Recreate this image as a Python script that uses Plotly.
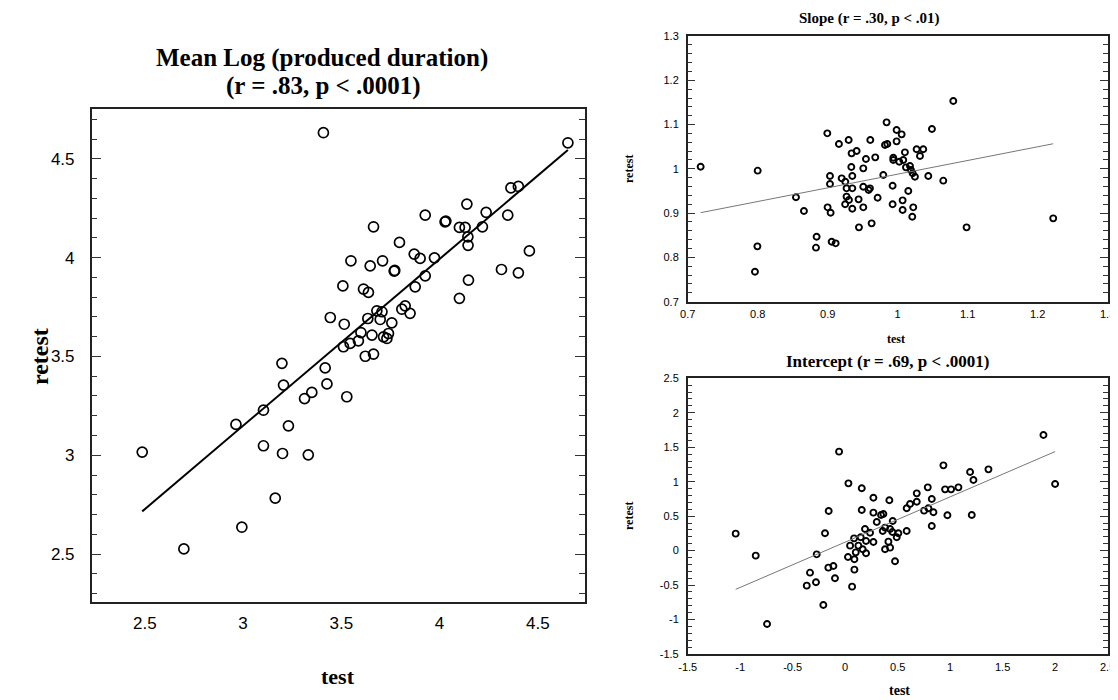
import plotly.graph_objects as go

W, H = 1118, 700
OFF = 8  # page body margin of the browser
FW, FH = W - OFF, H - OFF

# ---------------- data ----------------
main_test = [2.487, 2.699, 2.964, 2.994, 3.104, 3.104, 3.164, 3.198, 3.206, 3.201,
             3.231, 3.313, 3.350, 3.332, 3.418, 3.427, 3.409, 4.653, 4.363, 4.401,
             4.139, 3.927, 4.028, 4.032, 4.237, 4.347, 4.101, 4.130, 4.218, 4.144,
             4.145, 3.664, 3.796, 3.871, 3.901, 3.974, 4.457, 3.927, 3.549, 3.710,
             3.647, 3.769, 3.772, 4.315, 4.401, 3.876, 4.147, 4.101, 3.508, 3.613,
             3.638, 3.681, 3.707, 3.808, 3.825, 3.850, 3.757, 3.698, 3.635, 3.515,
             3.444, 3.600, 3.587, 3.656, 3.715, 3.732, 3.740, 3.545, 3.511, 3.622,
             3.664, 3.528]
main_retest = [3.016, 2.526, 3.156, 2.636, 3.228, 3.048, 2.783, 3.465, 3.355, 3.009,
               3.149, 3.287, 3.318, 3.002, 3.442, 3.361, 4.632, 4.581, 4.353, 4.360,
               4.271, 4.215, 4.181, 4.185, 4.229, 4.215, 4.153, 4.153, 4.156, 4.105,
               4.062, 4.156, 4.077, 4.018, 3.996, 3.999, 4.034, 3.908, 3.984, 3.984,
               3.958, 3.932, 3.935, 3.940, 3.923, 3.852, 3.886, 3.794, 3.857, 3.841,
               3.824, 3.731, 3.726, 3.739, 3.756, 3.718, 3.670, 3.687, 3.692, 3.663,
               3.697, 3.621, 3.579, 3.608, 3.599, 3.591, 3.616, 3.566, 3.549, 3.501,
               3.512, 3.296]
main_fit = (0.617, 0.844)  # intercept, slope

slope_test = [0.7185, 0.800, 0.7961, 0.7996, 0.8547, 0.8661, 0.8842, 0.8833, 0.9057, 0.9114,
              0.8995, 0.9033, 0.9033, 0.8999, 0.9042, 0.9161, 0.930, 0.920, 0.9342, 0.9414,
              0.9338, 0.9352, 0.9252, 0.927, 0.9352, 0.927, 0.9304, 0.925, 0.9352, 0.9442,
              0.9509, 0.9509, 0.9547, 0.9509, 0.9447, 0.9609, 0.968, 0.9604, 0.9585, 0.9714,
              0.9628, 0.9795, 0.9842, 0.9819, 0.9852, 0.9985, 1.0057, 0.9985, 0.9938, 0.9938,
              1.0023, 1.008, 1.0104, 0.9928, 0.9928, 1.0071, 1.0071, 1.0152, 1.0119, 1.0176,
              1.019, 1.0214, 1.0247, 1.0209, 1.0223, 1.0271, 1.0366, 1.0319, 1.0438, 1.049,
              1.0652, 1.0795, 1.0985, 1.2223]
slope_retest = [1.0049, 0.9959, 0.7678, 0.825, 0.9357, 0.9048, 0.8468, 0.822, 0.8355, 0.8318,
                1.0802, 0.9838, 0.9658, 0.9131, 0.901, 1.0561, 1.0651, 0.9786, 1.035, 1.0403,
                1.0042, 0.9838, 0.971, 0.956, 0.956, 0.9372, 0.9296, 0.9199, 0.910, 0.9311,
                0.9597, 1.0011, 1.0222, 0.9131, 0.8679, 1.0651, 1.026, 0.956, 0.9522, 0.9349,
                0.8769, 0.9861, 1.105, 1.0538, 1.0561, 1.0877, 1.0779, 1.0621, 1.0252, 1.02,
                1.0162, 1.02, 1.0373, 0.962, 0.9199, 0.9289, 0.907, 0.95, 1.0034, 1.0064,
                0.9974, 0.9899, 0.9823, 0.892, 0.9131, 1.0441, 1.0441, 1.029, 0.9838, 1.09,
                0.9733, 1.1532, 0.8679, 0.8882]
slope_fit = (0.679, 0.309)

icpt_test = [-1.043, -0.852, -0.744, -0.366, -0.335, -0.278, -0.271, -0.208, -0.192, -0.157,
             -0.160, -0.112, -0.097, -0.058, 0.031, 0.027, 0.066, 0.088, 0.088, 0.047,
             0.085, 0.101, 0.126, 0.158, 0.158, 0.148, 0.167, 0.189, 0.199, 0.199,
             0.237, 0.269, 0.269, 0.269, 0.301, 0.342, 0.364, 0.358, 0.380, 0.380,
             0.412, 0.421, 0.428, 0.428, 0.453, 0.450, 0.475, 0.491, 0.507, 0.586,
             0.586, 0.618, 0.682, 0.682, 0.752, 0.787, 0.793, 0.825, 0.841, 0.825,
             0.936, 0.952, 1.009, 1.079, 0.974, 1.190, 1.222, 1.206, 1.365, 1.889,
             2.000]
icpt_retest = [0.246, -0.073, -1.065, -0.508, -0.320, -0.460, -0.054, -0.789, 0.251, 0.575,
               -0.247, -0.223, -0.402, 1.436, 0.976, -0.093, -0.523, -0.126, -0.276, 0.072,
               0.178, -0.025, 0.072, 0.904, 0.589, 0.193, 0.019, 0.314, 0.140, -0.039,
               0.260, 0.768, 0.551, 0.125, 0.415, 0.517, 0.531, 0.285, 0.333, 0.019,
               0.130, 0.730, 0.043, 0.314, 0.430, 0.270, -0.155, 0.193, 0.251, 0.285,
               0.614, 0.676, 0.831, 0.710, 0.580, 0.918, 0.614, 0.749, 0.556, 0.357,
               1.237, 0.889, 0.889, 0.918, 0.512, 1.141, 1.025, 0.517, 1.179, 1.677,
               0.967]
icpt_fit = (0.123, 0.657)

main_ticks = [2.5, 3, 3.5, 4, 4.5]
main_tick_text = ["2.5", "3", "3.5", "4", "4.5"]
slope_ticks = [0.7, 0.8, 0.9, 1.0, 1.1, 1.2, 1.3]
slope_tick_text = ["0.7", "0.8", "0.9", "1", "1.1", "1.2", "1.3"]
icpt_ticks = [-1.5, -1, -0.5, 0, 0.5, 1, 1.5, 2, 2.5]
icpt_tick_text = ["-1.5", "-1", "-0.5", "0", "0.5", "1", "1.5", "2", "2.5"]

# ---------------- helpers (window pixels -> paper fractions) ----------------
def px_x(p):
    return (p - OFF) / FW

def px_y(p):
    return 1 - (p - OFF) / FH

SERIF = "Liberation Serif"
SANS = "Liberation Sans"

fig = go.Figure()

def add_panel(xs, ys, fit, xa, ya, msize, mwidth, lcolor, lwidth):
    fig.add_trace(go.Scatter(
        x=xs, y=ys, mode="markers", xaxis=xa, yaxis=ya,
        marker=dict(symbol="circle-open", size=msize, color="black",
                    line=dict(width=mwidth, color="black")),
        showlegend=False, hoverinfo="skip"))
    x0, x1 = min(xs), max(xs)
    fig.add_trace(go.Scatter(
        x=[x0, x1], y=[fit[0] + fit[1] * x0, fit[0] + fit[1] * x1],
        mode="lines", xaxis=xa, yaxis=ya,
        line=dict(color=lcolor, width=lwidth),
        showlegend=False, hoverinfo="skip"))

add_panel(main_test, main_retest, main_fit, "x", "y", 10, 1.7, "black", 2)
add_panel(slope_test, slope_retest, slope_fit, "x2", "y2", 6, 1.9, "#777777", 1)
add_panel(icpt_test, icpt_retest, icpt_fit, "x3", "y3", 6, 1.9, "#777777", 1)

def xaxis(dom, anchor, rng, tv, tt, fsize, standoff, lw):
    return dict(domain=dom, anchor=anchor, range=rng, tickvals=tv, ticktext=tt,
                ticks="", showgrid=False, zeroline=False, showline=True,
                linecolor="#222222", linewidth=lw, mirror=True, automargin=False,
                tickfont=dict(family=SANS, size=fsize, color="black"),
                ticklabelstandoff=standoff)

def yaxis(dom, anchor, rng, tv, tt, minor_dt, fsize, maj, mnr, standoff, lw):
    return dict(domain=dom, anchor=anchor, range=rng, tickvals=tv, ticktext=tt,
                ticks="inside", ticklen=maj, tickwidth=1, tickcolor="#333333",
                showgrid=False, zeroline=False, showline=True, automargin=False,
                linecolor="#222222", linewidth=lw, mirror="ticks",
                minor=dict(ticks="inside", dtick=minor_dt, ticklen=mnr,
                           tickwidth=1, tickcolor="#333333", showgrid=False),
                tickfont=dict(family=SANS, size=fsize, color="black"),
                ticklabelstandoff=standoff)

main_xd = [px_x(91.7), px_x(585)]
main_yd = [px_y(602.3), px_y(109)]
r_xd = [px_x(687.7), px_x(1107.6)]
top_yd = [px_y(301.7), px_y(36)]
bot_yd = [px_y(654), px_y(378.3)]

fig.update_layout(
    width=FW, height=FH, margin=dict(l=0, r=0, t=0, b=0, autoexpand=False),
    paper_bgcolor="white", plot_bgcolor="white",
    xaxis=xaxis(main_xd, "y", [2.23, 4.74], main_ticks, main_tick_text, 17, 5, 1.5),
    yaxis=yaxis(main_yd, "x", [2.256, 4.752], main_ticks, main_tick_text, 0.1, 17, 10, 6, 12, 1.5),
    xaxis2=xaxis(r_xd, "y2", [0.7, 1.3], slope_ticks, slope_tick_text, 11, 1, 1.5),
    yaxis2=yaxis(top_yd, "x2", [0.7, 1.3], slope_ticks, slope_tick_text, 0.02, 11, 8, 5, 5, 1.5),
    xaxis3=xaxis(r_xd, "y3", [-1.5, 2.5], icpt_ticks, icpt_tick_text, 11, 2, 1.5),
    yaxis3=yaxis(bot_yd, "x3", [-1.5, 2.5], icpt_ticks, icpt_tick_text, 0.1, 11, 8, 5, 5, 1.5),
)

def note(text, x, y, size, angle=0):
    fig.add_annotation(text=text, x=px_x(x), y=px_y(y), xref="paper", yref="paper",
                       showarrow=False, textangle=angle, xanchor="center", yanchor="middle",
                       font=dict(family=SERIF, size=size, color="black"))

note("<b>Mean Log (produced duration)</b>", 322, 58, 25)
note("<b>(r = .83, p < .0001)</b>", 323, 86, 25)
note("<b>retest</b>", 40, 357, 24, -90)
note("<b>test</b>", 338, 676, 22)

note("<b>Slope (r = .30, p < .01)</b>", 869, 19, 15)
note("<b>retest</b>", 629, 169, 12, -90)
note("<b>test</b>", 896, 339, 12)

note("<b>Intercept (r = .69, p < .0001)</b>", 887, 361, 17)
note("<b>retest</b>", 629, 516, 12, -90)
note("<b>test</b>", 899, 690, 14)

fig.write_html("out.html")
